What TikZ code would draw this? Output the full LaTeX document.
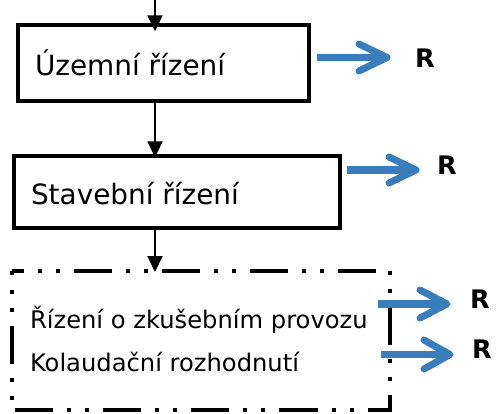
\documentclass[tikz,border=0pt]{standalone}
\usepackage{fontspec}
\setmainfont{DejaVu Sans}
\usetikzlibrary{arrows.meta}
\definecolor{arrowblue}{RGB}{58,125,188}
\tikzset{
  box/.style={draw=black, line width=4bp, rectangle, inner sep=0pt, outer sep=0pt},
  dashbox/.style={draw=black, line width=4bp, line cap=butt,
     dash pattern=on 38bp off 14bp on 4bp off 14bp on 4bp off 14bp, dash phase=26bp},
  lbl/.style={inner sep=0pt, outer sep=0pt, anchor=base west, font=\fontsize{27.9bp}{33bp}\selectfont},
  lblsmall/.style={inner sep=0pt, outer sep=0pt, anchor=base west, font=\fontsize{24.2bp}{29bp}\selectfont},
  rlab/.style={inner sep=0pt, outer sep=0pt, anchor=base west, font=\fontsize{25.5bp}{30bp}\selectfont\bfseries},
  flow/.style={draw=black, line width=2bp, -{Triangle[length=16bp,width=15bp]}},
  bshaft/.style={draw=arrowblue, line width=7.5bp, line cap=butt, shorten >=3bp},
  bhead/.style={draw=arrowblue, line width=7bp, line cap=round, line join=round},
}
\begin{document}
\begin{tikzpicture}[x=1bp, y=-1bp]
\useasboundingbox (0,0) rectangle (497,413);

% boxes
\node[box, minimum width=291.3bp, minimum height=76bp] (b1) at (163.35,63.3) {};
\node[box, minimum width=326bp, minimum height=71.7bp] (b2) at (176.7,192.15) {};
\draw[dashbox] (12,270.5) -- (390,270.5) -- (390,410) -- (12,410) -- cycle;
\coordinate (b3n) at (155,270.5);

% texts
\node[lbl] (t1) at (35,75) {Územní řízení};
\node[lbl] (t2) at (31,204) {Stavební řízení};
\node[lblsmall] (t3) at (30,328) {Řízení o zkušebním provozu};
\node[lblsmall] (t4) at (30,371) {Kolaudační rozhodnutí};

% R labels
\node[rlab] (r1) at (415,67) {R};
\node[rlab] (r2) at (437,174) {R};
\node[rlab] (r3) at (470,308) {R};
\node[rlab] (r4) at (472,358) {R};

% black flow arrows
\coordinate (s0) at (155,0);
\draw[flow, shorten >=-6bp] (s0) -- (s0 |- b1.north);
\draw[flow, shorten >=-1bp] (s0 |- b1.south) -- (s0 |- b2.north);
\draw[flow, shorten >=-1.5bp] (s0 |- b2.south) -- (b3n);

% blue arrows
\coordinate (a1s) at (317,57.5);   \coordinate (a1e) at (387,57.5);
\coordinate (a2s) at (347,170);    \coordinate (a2e) at (416,170);
\coordinate (a3s) at (378,304);    \coordinate (a3e) at (447,304);
\coordinate (a4s) at (381,354.5);  \coordinate (a4e) at (450,354.5);
\draw[bshaft] (a1s) -- (a1e);
\draw[bhead] (a1e) ++(-28,-13.5) -- (a1e) -- ++(-28,13.5);
\draw[bshaft] (a2s) -- (a2e);
\draw[bhead] (a2e) ++(-27,-13) -- (a2e) -- ++(-27,13);
\draw[bshaft] (a3s) -- (a3e);
\draw[bhead] (a3e) ++(-27,-14) -- (a3e) -- ++(-27,14);
\draw[bshaft] (a4s) -- (a4e);
\draw[bhead] (a4e) ++(-26,-14.5) -- (a4e) -- ++(-26,14.5);
\end{tikzpicture}
\end{document}
